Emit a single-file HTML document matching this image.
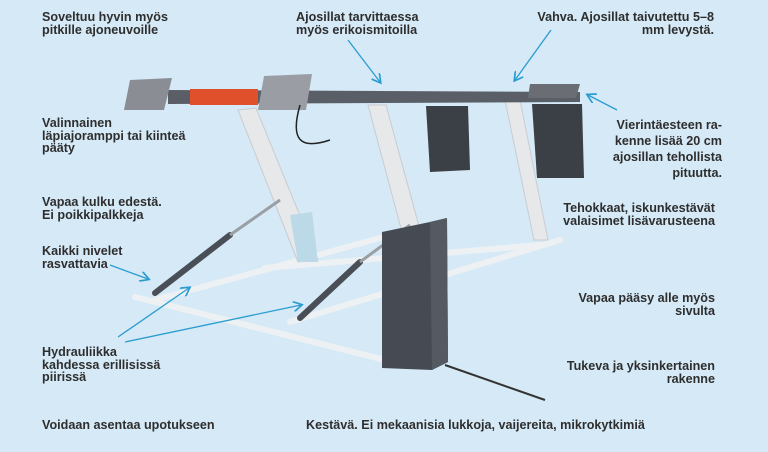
<!DOCTYPE html>
<html><head><meta charset="utf-8"><style>
body{margin:0;width:768px;height:452px;overflow:hidden;background:#d5e9f6;font-family:"Liberation Sans",sans-serif;}
.t{position:absolute;font-size:12.6px;font-weight:bold;line-height:12.5px;color:#2e2e2e;white-space:nowrap;}
.r{text-align:right;}
svg{position:absolute;left:0;top:0;}
</style></head><body>
<svg width="768" height="452" viewBox="0 0 768 452">
<defs><marker id="a" markerWidth="8" markerHeight="8" refX="6" refY="4" orient="auto"><path d="M0,0 L7,4 L0,8" fill="none" stroke="#2b9cd0" stroke-width="1.3"/></marker></defs>
<g stroke="#eef1f3" stroke-width="6" fill="none" stroke-linecap="round">
<path d="M135,297 L385,360"/><path d="M155,300 L380,238"/><path d="M290,322 L560,240"/><path d="M265,268 L540,245"/>
</g>
<g fill="#e6e8ea" stroke="#c9ccd0" stroke-width="1">
<polygon points="238,110 256,108 318,260 298,262"/>
<polygon points="368,105 386,105 420,230 402,232"/>
<polygon points="505,100 520,100 548,240 534,240"/>
</g>
<polygon points="290,215 312,212 318,262 298,262" fill="#bcd9e8"/>
<g stroke="#4a4f57" stroke-width="6" stroke-linecap="round"><path d="M155,293 L230,235"/><path d="M300,318 L360,262"/></g>
<g stroke="#9a9fa5" stroke-width="3"><path d="M230,235 L280,200"/><path d="M360,262 L410,225"/></g>
<polygon points="168,90 580,92 580,102 168,104" fill="#5a5f67"/>
<rect x="190" y="89" width="68" height="16" fill="#e0502a"/>
<polygon points="130,80 172,78 164,110 124,110" fill="#8a8e94"/>
<polygon points="264,76 312,74 306,110 258,110" fill="#9a9ea4"/>
<polygon points="530,84 580,84 576,98 528,98" fill="#6a6e74"/>
<path d="M300,105 C290,140 300,150 330,140" stroke="#222" stroke-width="1.5" fill="none"/>
<polygon points="426,106 468,106 470,170 430,172" fill="#3b3f46"/>
<polygon points="532,104 582,104 584,178 537,178" fill="#3b3f46"/>
<polygon points="382,232 430,222 447,218 448,362 432,370 382,368" fill="#464b53"/>
<polygon points="430,222 447,218 448,362 432,370" fill="#555a62"/>
<path d="M445,365 L545,400" stroke="#333" stroke-width="2"/>
<g stroke="#2b9cd0" stroke-width="1.3" fill="none" marker-end="url(#a)">
<path d="M348,40 L380,82"/><path d="M551,30 L515,80"/><path d="M617,110 L588,95"/>
<path d="M110,265 L148,279"/><path d="M118,337 L189,288"/><path d="M125,342 L301,305"/>
</g>
</svg>
<div class="t" style="left:42px;top:11px">Soveltuu hyvin myös<br>pitkille ajoneuvoille</div>
<div class="t" style="left:296px;top:11px">Ajosillat tarvittaessa<br>myös erikoismitoilla</div>
<div class="t r" style="right:54px;top:11px">Vahva. Ajosillat taivutettu 5–8<br>mm levystä.</div>
<div class="t" style="left:42px;top:117px">Valinnainen<br>läpiajoramppi tai kiinteä<br>pääty</div>
<div class="t r" style="right:46px;top:117px;line-height:16px">Vierintäesteen ra-<br>kenne lisää 20 cm<br>ajosillan tehollista<br>pituutta.</div>
<div class="t" style="left:42px;top:196px">Vapaa kulku edestä.<br>Ei poikkipalkkeja</div>
<div class="t r" style="right:53px;top:202px">Tehokkaat, iskunkestävät<br>valaisimet lisävarusteena</div>
<div class="t" style="left:42px;top:245px">Kaikki nivelet<br>rasvattavia</div>
<div class="t r" style="right:53px;top:292px">Vapaa pääsy alle myös<br>sivulta</div>
<div class="t" style="left:42px;top:346px">Hydrauliikka<br>kahdessa erillisissä<br>piirissä</div>
<div class="t r" style="right:53px;top:360px">Tukeva ja yksinkertainen<br>rakenne</div>
<div class="t" style="left:42px;top:419px">Voidaan asentaa upotukseen</div>
<div class="t" style="left:306px;top:419px">Kestävä. Ei mekaanisia lukkoja, vaijereita, mikrokytkimiä</div>
</body></html>
